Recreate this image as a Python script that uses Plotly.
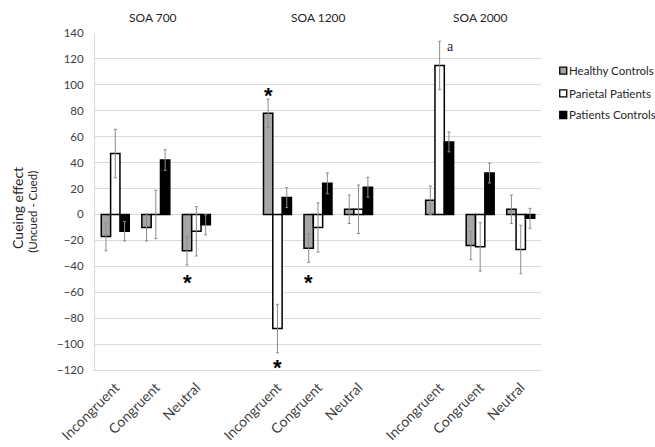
import plotly.graph_objects as go

# ---------------- data ----------------
soa_groups = ["SOA 700", "SOA 1200", "SOA 2000"]
conditions = ["Incongruent", "Congruent", "Neutral"]
series_names = ["Healthy Controls", "Parietal Patients", "Patients Controls"]

healthy = [-17, -10, -28, 78, -26, 4, 11, -24, 4]
healthy_err = [11, 10.5, 11, 11, 11, 11, 11, 11, 11]
parietal = [47, 0, -13, -88, -10, 4, 115, -25, -27]
parietal_err = [18.7, 18.7, 19, 18.7, 19, 18.7, 18.7, 18.7, 18.7]
pat_controls = [-13, 42, -8, 13, 24, 21, 56, 32, -3]
pat_controls_err = [7.5, 8, 7.7, 7.7, 8, 7.7, 7.7, 7.7, 7.7]

# significance marks: (series index, cell index, y value, text)
sig_marks = [(0, 2, -49, "*"), (0, 3, 96, "*"), (1, 3, -114, "*"), (0, 4, -49, "*")]
letter_marks = [(1, 6, 129.6, "a")]

y_ticks = list(range(-120, 141, 20))

# ---------------- styling ----------------
fills = ["#a6a6a6", "#ffffff", "#000000"]
FONT = "Lato, Open Sans, sans-serif"
TXT = "#404040"
GRID = "#d9d9d9"
BARGAP = 0.31
bar_w = (1 - BARGAP) / 3

# category positions: one empty slot between SOA groups
xpos = [g * 4 + j for g in range(len(soa_groups)) for j in range(len(conditions))]
xlabels = [c for _ in soa_groups for c in conditions]

series_vals = [healthy, parietal, pat_controls]
series_errs = [healthy_err, parietal_err, pat_controls_err]

fig = go.Figure()
for name, vals, errs, col in zip(series_names, series_vals, series_errs, fills):
    fig.add_trace(go.Bar(
        name=name, x=xpos, y=vals,
        marker=dict(color=col, line=dict(color="#000000", width=1.5)),
        error_y=dict(type="data", array=errs, visible=True,
                     color="#8c8c8c", thickness=1, width=1.5),
        showlegend=False,
    ))

annotations = []
# group titles
for g, title in enumerate(soa_groups):
    annotations.append(dict(x=g * 4 + 1, y=1.0, xref="x", yref="paper",
                            text=title, showarrow=False, yanchor="bottom", xanchor="center",
                            xshift=-3 if g == 0 else 0, yshift=6,
                            font=dict(family=FONT, size=12, color="#262626")))

# significance asterisks
for s, i, yv, t in sig_marks:
    annotations.append(dict(x=xpos[i] + (s - 1) * bar_w, y=yv, xref="x", yref="y",
                            text="<b>" + t + "</b>", showarrow=False, yshift=-5,
                            xanchor="center", yanchor="middle",
                            font=dict(family="Liberation Sans, Arial", size=22, color="#000")))
for s, i, yv, t in letter_marks:
    annotations.append(dict(x=xpos[i] + (s - 1) * bar_w, y=yv, xref="x", yref="y",
                            text=t, showarrow=False, xanchor="left", yanchor="middle", xshift=5,
                            font=dict(family="Liberation Serif, Times New Roman", size=14, color="#262626")))

# y-axis title (two lines, different sizes)
annotations.append(dict(x=-0.1727, y=0.481, xref="paper", yref="paper", text="Cueing effect",
                        textangle=-90, showarrow=False, xanchor="center", yanchor="middle",
                        font=dict(family=FONT, size=14, color="#262626")))
annotations.append(dict(x=-0.1395, y=0.469, xref="paper", yref="paper", text="(Uncued - Cued)",
                        textangle=-90, showarrow=False, xanchor="center", yanchor="middle",
                        font=dict(family=FONT, size=11.5, color="#262626")))

# manual legend (small squares like the original)
shapes = []
leg_y = [0.8881, 0.8211, 0.7567]
for name, col, ly in zip(series_names, fills, leg_y):
    shapes.append(dict(type="rect", xref="paper", yref="paper",
                       xsizemode="pixel", ysizemode="pixel",
                       xanchor=1.042, yanchor=ly, x0=0, x1=7, y0=-3.5, y1=3.5,
                       fillcolor=col, line=dict(color="#000", width=1.3)))
    annotations.append(dict(x=1.0576, y=ly, xref="paper", yref="paper", text=name,
                            xanchor="left", yanchor="middle", showarrow=False,
                            font=dict(family=FONT, size=11.5, color="#262626")))

fig.update_layout(
    width=655, height=447,
    margin=dict(l=95, r=114, t=33, b=77),
    barmode="group", bargap=BARGAP, bargroupgap=0,
    plot_bgcolor="#ffffff", paper_bgcolor="#ffffff",
    hovermode=False,
    annotations=annotations, shapes=shapes,
    xaxis=dict(range=[-0.5, 10.5], tickmode="array", tickvals=xpos, ticktext=xlabels,
               tickangle=-45, showgrid=False, zeroline=False, automargin=False,
               showline=True, linecolor=GRID, linewidth=1,
               ticklabelstandoff=3,
               tickfont=dict(family=FONT, size=14, color=TXT)),
    yaxis=dict(range=[-120, 140], tickmode="array", tickvals=y_ticks, automargin=False,
               showgrid=True, gridcolor=GRID, gridwidth=1,
               zeroline=True, zerolinecolor=GRID, zerolinewidth=1,
               showline=True, linecolor=GRID, linewidth=1, mirror=False,
               ticklabelstandoff=8,
               tickfont=dict(family=FONT, size=11.5, color=TXT)),
    font=dict(family=FONT),
)

# remove the browser's default 8px body margin so the figure fills the window exactly
fig.write_html("out.html",
               config={"displayModeBar": False},
               post_script="document.body.style.margin='0';document.body.style.overflow='hidden';")
